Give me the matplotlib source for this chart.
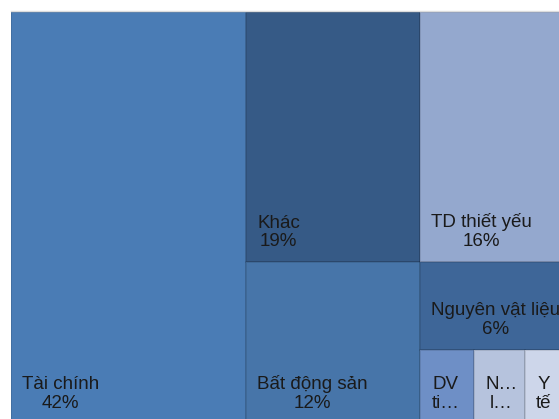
import matplotlib.pyplot as plt
from matplotlib.patches import Rectangle

# tỷ trọng theo ngành (%)
sectors = ["Tài chính", "Khác", "Bất động sản", "TD thiết yếu",
           "Nguyên vật liệu", "DV tiện ích", "Năng lượng", "Y tế"]
values = [42.0, 18.9, 12.2, 16.3, 5.75, 1.73, 1.63, 1.47]
shown = ["Tài chính\n42%", "Khác\n19%", "Bất động sản\n12%", "TD thiết yếu\n16%",
         "Nguyên vật liệu\n6%", "DV\nti…", "N…\nl…", "Y\ntế"]
colors = ["#4a7cb5", "#365a86", "#4775a9", "#94a8ce",
          "#3e6698", "#6e8fc6", "#b6c3dd", "#cdd6ea"]

# cột -> hàng -> ô (chỉ số vào sectors)
layout = [[[0]], [[1], [2]], [[3], [4], [5, 6, 7]]]

total = sum(values)
rects = {}
x = 0.0
for col in layout:
    col_sum = sum(values[i] for row in col for i in row)
    w = col_sum / total
    y = 1.0
    for row in col:
        row_sum = sum(values[i] for i in row)
        h = row_sum / col_sum
        xx = x
        for i in row:
            ww = w * values[i] / row_sum
            rects[i] = (xx, y - h, ww, h)
            xx += ww
        y -= h
    x += w

fig = plt.figure(figsize=(5.59, 4.19), dpi=100)
ax = fig.add_axes([11 / 559, -5 / 419, 560 / 559, 412 / 419])
ax.set_xlim(0, 1)
ax.set_ylim(0, 1)
ax.axis("off")

for i, (x0, y0, w, h) in rects.items():
    ax.add_patch(Rectangle((x0, y0), w, h, facecolor=colors[i],
                           edgecolor=(0, 0, 0, 0.12), linewidth=1.2))
    ax.annotate(shown[i], xy=(x0, y0), xytext=(11, 12), textcoords="offset pixels",
                ha="left", va="bottom", multialignment="center",
                fontsize=13.5, family="Liberation Sans", color="#1a1a1a",
                linespacing=1.12, annotation_clip=False)

ax.plot([0, 1], [1.002, 1.002], color="#dcdcdc", lw=1, clip_on=False)

fig.savefig("out.png", dpi=100)
